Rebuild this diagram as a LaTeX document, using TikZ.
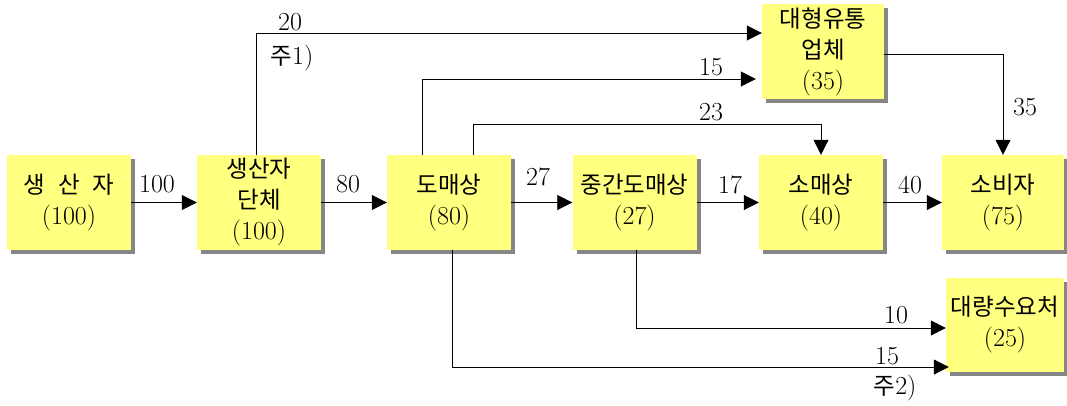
\documentclass[tikz,border=0pt]{standalone}
\usepackage{fontspec}
\newfontfamily\krfont{Noto Sans CJK KR}
\usetikzlibrary{arrows.meta,shadows}
\newcommand\hk[1]{{\krfont\fontsize{23.5}{31}\selectfont #1}}
\newcommand\gap{\hspace{0.55em}}
\definecolor{boxyellow}{HTML}{FFFF80}
\definecolor{shadowgray}{HTML}{868686}
\begin{document}
\begin{tikzpicture}[x=1pt,y=-1pt,
  box/.style={draw=none, fill=boxyellow, minimum width=124pt, minimum height=95pt, inner sep=0pt, align=center,
    font=\fontsize{26}{31}\selectfont,
    drop shadow={shadow xshift=4pt, shadow yshift=-4pt, fill=shadowgray, opacity=1}},
  arr/.style={-{Triangle[length=15pt,width=15pt]}, line width=0.8pt},
  lab/.style={font=\fontsize{26}{31}\selectfont, inner sep=0pt}]
\useasboundingbox (0,0) rectangle (1067,405);

\node[box] (n1) at (69,202.5) {\hk{생\gap 산\gap 자}\\(100)};
\node[box] (n2) at (259,202.5) {\hk{생산자}\\\hk{단체}\\(100)};
\node[box] (n3) at (449,202.5) {\hk{도매상}\\(80)};
\node[box] (n4) at (634.5,202.5) {\hk{중간도매상}\\(27)};
\node[box] (n5) at (821,202.5) {\hk{소매상}\\(40)};
\node[box, minimum width=122pt] (n6) at (1003,202.5) {\hk{소비자}\\(75)};
\node[box, minimum width=122pt] (n7) at (823,51.5) {\hk{대형유통}\\\hk{업체}\\(35)};
\node[box, minimum width=118pt, minimum height=94pt] (n8) at (1005,325) {\hk{대량수요처}\\(25)};

\draw[arr] (n1) -- (n2);
\draw[arr] (n2) -- (n3);
\draw[arr] (n3) -- (n4);
\draw[arr] (n4) -- (n5);
\draw[arr] (n5) -- (n6);
\draw[arr] ([xshift=-3pt]n2.north) |- ([yshift=18.5pt]n7.west);
\draw[arr] ([xshift=-27pt]n3.north) |- ([xshift=-6pt,yshift=-27.5pt]n7.west);
\draw[arr] ([xshift=24pt]n3.north) -- ++(0,-30) -| (n5.north);
\draw[arr] ([yshift=-2.5pt]n7.east) -| (n6.north);
\draw[arr] ([xshift=1.5pt]n4.south) |- ([yshift=-3pt]n8.west);
\draw[arr] ([xshift=3pt]n3.south) |- ([xshift=3pt,yshift=-42pt]n8.west);

\node[lab] (l100) at (157,184) {100};
\node[lab] (l80) at (348,184) {80};
\node[lab] (l27) at (538,177) {27};
\node[lab] (l17) at (730,185) {17};
\node[lab] (l40) at (910,185) {40};
\node[lab] (l20) at (290,22) {20};
\node[lab] (n1note) at (292,58) {\hk{주}1)};
\node[lab] (l15a) at (711,67) {15};
\node[lab] (l23) at (711,112) {23};
\node[lab] (l35) at (1025,107) {35};
\node[lab] (l10) at (896,315) {10};
\node[lab] (l15b) at (887,356) {15};
\node[lab] (n2note) at (895,388) {\hk{주}2)};
\end{tikzpicture}
\end{document}
